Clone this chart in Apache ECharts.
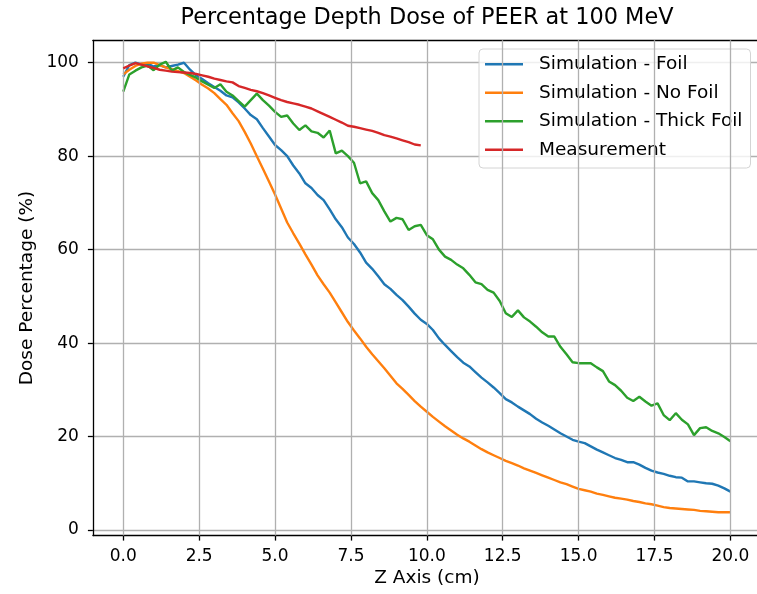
<!DOCTYPE html>
<html>
<head>
<meta charset="utf-8">
<script src="https://cdn.jsdelivr.net/npm/echarts@6/dist/echarts.min.js"></script>
<style>
html,body{margin:0;padding:0;background:#fff;overflow:hidden;width:757px;height:594px;}
#chart{width:800px;height:594px;}
</style>
</head>
<body>
<div id="chart"></div>
<script>
// ---- data ----
const simZ = [0,0.2,0.4,0.6,0.8,1,1.2,1.4,1.6,1.8,2,2.2,2.4,2.6,2.8,3,3.2,3.4,3.6,3.8,4,4.2,4.4,4.6,4.8,5,5.2,5.4,5.6,5.8,6,6.2,6.4,6.6,6.8,7,7.2,7.4,7.6,7.8,8,8.2,8.4,8.6,8.8,9,9.2,9.4,9.6,9.8,10,10.2,10.4,10.6,10.8,11,11.2,11.4,11.6,11.8,12,12.2,12.4,12.6,12.8,13,13.2,13.4,13.6,13.8,14,14.2,14.4,14.6,14.8,15,15.2,15.4,15.6,15.8,16,16.2,16.4,16.6,16.8,17,17.2,17.4,17.6,17.8,18,18.2,18.4,18.6,18.8,19,19.2,19.4,19.6,19.8,20];
const foil = [97.0,99.5,100,99.6,99.8,99.2,99.5,99.0,99.3,99.6,100,98.5,97.3,96.5,95.6,94.8,94.0,93.0,92.6,91.5,90.2,88.8,87.9,86.0,84.2,82.4,81.3,80.0,78.0,76.3,74.2,73.2,71.7,70.6,68.6,66.5,64.8,62.6,61.2,59.4,57.2,55.9,54.3,52.6,51.6,50.3,49.2,47.8,46.3,45.0,44.1,42.8,41.0,39.6,38.3,37.0,35.8,35.0,33.8,32.6,31.6,30.5,29.3,28.0,27.3,26.4,25.6,24.8,23.8,23.0,22.3,21.5,20.7,20.0,19.3,18.9,18.6,17.9,17.2,16.6,16.0,15.4,15.0,14.5,14.5,14.0,13.3,12.7,12.3,12.0,11.6,11.3,11.2,10.4,10.4,10.2,10.0,9.9,9.5,8.9,8.2];
const noFoil = [97.5,98.5,99.3,99.8,100,100,99.5,99.0,98.6,98.2,97.8,97.0,96.2,95.3,94.5,93.5,92.2,91.0,89.2,87.5,85.2,82.7,80.0,77.3,74.6,71.8,68.8,65.8,63.5,61.3,59.0,56.8,54.5,52.6,50.8,48.7,46.6,44.5,42.7,41.0,39.2,37.6,36.1,34.6,33.0,31.4,30.2,28.9,27.6,26.4,25.3,24.2,23.2,22.2,21.3,20.4,19.6,18.9,18.1,17.3,16.6,16.0,15.4,14.8,14.3,13.8,13.2,12.7,12.2,11.7,11.2,10.7,10.2,9.8,9.3,8.8,8.5,8.2,7.8,7.5,7.2,6.9,6.7,6.5,6.2,6.0,5.7,5.5,5.2,4.9,4.7,4.6,4.5,4.4,4.3,4.1,4.0,3.9,3.8,3.8,3.8];
const thickFoil = [93.8,97.5,98.3,99.0,99.4,98.4,99.6,100.2,98.3,99.0,98.0,97.4,96.8,96.0,95.3,94.6,95.4,93.8,93.0,91.8,90.6,92.0,93.4,92.0,90.8,89.5,88.4,88.7,87.0,85.6,86.6,85.3,85.0,84.0,85.5,80.6,81.2,80.0,78.6,74.2,74.6,72.1,70.6,68.2,66.0,66.8,66.5,64.2,65.0,65.3,63.1,62.2,60.0,58.5,57.8,56.8,56.0,54.6,53.0,52.6,51.4,50.8,49.0,46.4,45.6,47.0,45.5,44.6,43.5,42.3,41.4,41.4,39.2,37.6,35.9,35.7,35.7,35.7,34.8,34.0,31.8,31.0,29.8,28.3,27.6,28.5,27.5,26.6,27.1,24.6,23.5,25.0,23.6,22.6,20.3,21.8,22.0,21.2,20.7,19.9,19.0];
const measZ = [0,0.2,0.4,0.6,0.8,1,1.2,1.4,1.6,1.8,2,2.2,2.4,2.6,2.8,3,3.2,3.4,3.6,3.8,4,4.2,4.4,4.6,4.8,5,5.2,5.4,5.6,5.8,6,6.2,6.4,6.6,6.8,7,7.2,7.4,7.6,7.8,8,8.2,8.4,8.6,8.8,9,9.2,9.4,9.6,9.8];
const measurement = [98.8,99.4,99.9,99.6,99.2,98.9,98.5,98.3,98.1,98.0,97.9,97.8,97.6,97.3,97.0,96.6,96.3,96.0,95.8,95.0,94.6,94.2,93.9,93.5,93.0,92.5,92.0,91.6,91.3,91.0,90.6,90.2,89.6,89.0,88.4,87.8,87.2,86.5,86.3,86.0,85.7,85.4,85.0,84.5,84.2,83.8,83.4,83.0,82.5,82.3];
const seriesNames = ['Simulation - Foil','Simulation - No Foil','Simulation - Thick Foil','Measurement'];
const xTicks = [0,2.5,5,7.5,10,12.5,15,17.5,20];
const yTicks = [0,20,40,60,80,100];
const titleText = 'Percentage Depth Dose of PEER at 100 MeV';
const xLabel = 'Z Axis (cm)';
const yLabel = 'Dose Percentage (%)';

// ---- chart ----
const colors = ['#1f77b4','#ff7f0e','#2ca02c','#d62728'];
const FONT = 'DejaVu Sans';
const pair = (xs, ys) => ys.map((v,i)=>[xs[i], v]);
const seriesData = [pair(simZ,foil), pair(simZ,noFoil), pair(simZ,thickFoil), pair(measZ,measurement)];

const GL = 92.9, GT = 40.3, GW = 677, GH = 495.3;
const chart = echarts.init(document.getElementById('chart'), null, {renderer:'canvas'});
const axisCommon = {
  type: 'value',
  axisLine: {show:true, onZero:false, lineStyle:{color:'#000', width:1.3}},
  axisTick: {show:true, inside:false, length:5, lineStyle:{color:'#000', width:1.3}},
  splitLine: {show:true, lineStyle:{color:'#b0b0b0', width:1.3}},
  axisLabel: {color:'#000', fontFamily:FONT, fontSize:17},
};
const series = [{
  name:'_grid', type:'line', data:[], z:1, silent:true,
  markLine:{
    silent:true, symbol:['none','none'], animation:false,
    label:{show:false},
    lineStyle:{color:'#b0b0b0', width:1.3, type:'solid'},
    emphasis:{disabled:true},
    data: xTicks.map(v => ({xAxis:v})),
  },
}].concat(seriesNames.map((n,i)=>({
  name:n, type:'line', data:seriesData[i], symbol:'none', showSymbol:false,
  lineStyle:{width:2.4, color:colors[i]}, itemStyle:{color:colors[i]}, z:2+i,
  emphasis:{disabled:true},
})));
chart.setOption({
  animation: false,
  backgroundColor: '#fff',
  color: colors,
  grid: {left:GL, top:GT, width:GW, height:GH, containLabel:false, outerBoundsMode:'none', show:false},
  xAxis: [Object.assign({}, axisCommon, {
    min:-1, max:21.3,
    splitLine:{show:false},
    axisTick: Object.assign({}, axisCommon.axisTick, {customValues: xTicks}),
    axisLabel: Object.assign({}, axisCommon.axisLabel, {customValues: xTicks, margin:12, formatter: v => Number(v).toFixed(1)}),
  }), {
    type:'value', position:'top', min:-1, max:21.3,
    axisLine:{show:true, onZero:false, lineStyle:{color:'#000', width:1.3}},
    axisTick:{show:false}, axisLabel:{show:false}, splitLine:{show:false},
  }],
  yAxis: Object.assign({}, axisCommon, {
    min:-1.2, max:104.8,
    axisTick: Object.assign({}, axisCommon.axisTick, {customValues: yTicks}),
    axisLabel: Object.assign({}, axisCommon.axisLabel, {customValues: yTicks, margin:14, formatter: v => String(Math.round(v))}),
  }),
  legend: {
    orient:'vertical', left:479, top:49,
    padding:[5.75,8,8.75,6],
    itemWidth:38, itemHeight:2.5, itemGap:9.5,
    icon:'path://M0,0 L38,0 L38,2.5 L0,2.5 Z',
    backgroundColor:'rgba(255,255,255,0.8)', borderColor:'#d4d4d4', borderWidth:1, borderRadius:4,
    textStyle:{color:'#000', fontFamily:FONT, fontSize:18.5, lineHeight:18.5, padding:[0,0,0,11]},
    data: seriesNames,
  },
  graphic: [
    {type:'text', style:{text:titleText, x:427, y:18, textAlign:'center', textVerticalAlign:'middle', font:'22.4px "DejaVu Sans"', fill:'#000'}},
    {type:'text', style:{text:xLabel, x:427, y:578, textAlign:'center', textVerticalAlign:'middle', font:'18.5px "DejaVu Sans"', fill:'#000'}},
    {type:'text', x:27, y:288, rotation:Math.PI/2, style:{text:yLabel, x:0, y:0, textAlign:'center', textVerticalAlign:'middle', font:'18.5px "DejaVu Sans"', fill:'#000'}},
  ],
  series: series,
});
</script>
</body>
</html>
